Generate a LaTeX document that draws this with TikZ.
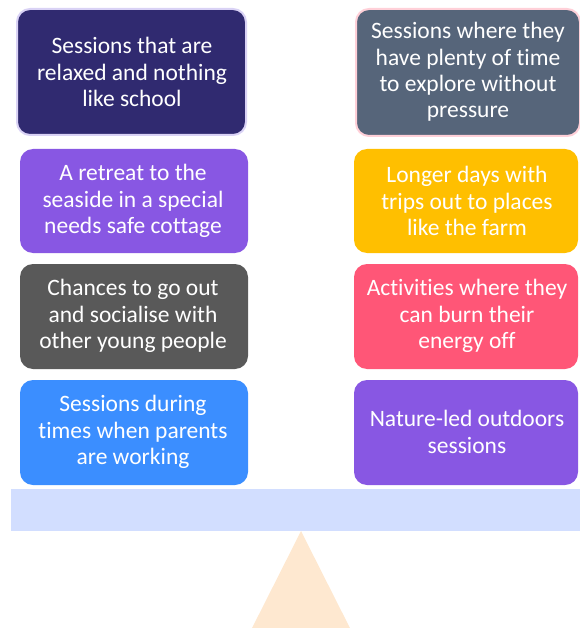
\documentclass[tikz,border=0pt]{standalone}
\usepackage{fontspec}
\setmainfont{Carlito}[Ligatures=NoCommon]
\definecolor{cNavy}{HTML}{302A70}
\definecolor{cLav}{HTML}{D9D2F5}
\definecolor{cPurple}{HTML}{8857E3}
\definecolor{cGray}{HTML}{595959}
\definecolor{cBlue}{HTML}{3B8EFF}
\definecolor{cSlate}{HTML}{56657A}
\definecolor{cPinkB}{HTML}{FFD0D8}
\definecolor{cAmber}{HTML}{FFBF00}
\definecolor{cRose}{HTML}{FF5677}
\definecolor{cBeam}{HTML}{D2DEFF}
\definecolor{cBase}{HTML}{FEE8D0}
\begin{document}
\begin{tikzpicture}[x=1pt,y=-1pt,
  card/.style={rounded corners=13pt, draw=none},
  cardtext/.style={text=white, align=center, font=\fontsize{23.5}{26.2}\selectfont, inner sep=0pt}]
\useasboundingbox (0,0) rectangle (579,628);
% fulcrum and beam
\fill[cBase] (301,531) coordinate (apex) -- (246,640) -- (356,640) -- cycle;
\fill[cBeam] (11,489) rectangle (590,531);
% left column
\filldraw[card, fill=cNavy, draw=cLav, line width=2pt] (17,9) rectangle (246,135);
\node[cardtext] (l1) at (132,72) {Sessions that are\\relaxed and nothing\\like school};
\fill[card, cPurple] (20,149) rectangle (248,253);
\node[cardtext] (l2) at (133,201) {A retreat to the\\seaside in a special\\needs safe cottage};
\fill[card, cGray] (20,264) rectangle (248,369);
\node[cardtext] (l3) at (133,316) {Chances to go out\\and socialise with\\other young people};
\fill[card, cBlue] (20,380) rectangle (248,485);
\node[cardtext] (l4) at (133,432) {Sessions during\\times when parents\\are working};
% right column
\filldraw[card, fill=cSlate, draw=cPinkB, line width=2pt] (356,9) rectangle (580,136);
\node[cardtext] (r1) at (468,72) {Sessions where they\\have plenty of time\\to explore without\\pressure};
\fill[card, cAmber] (354,149) rectangle (578,253);
\node[cardtext] (r2) at (467,201) {Longer days with\\trips out to places\\like the farm};
\fill[card, cRose] (354,264) rectangle (578,369);
\node[cardtext] (r3) at (467,316) {Activities where they\\can burn their\\energy off};
\fill[card, cPurple] (354,380) rectangle (578,485);
\node[cardtext] (r4) at (467,432) {Nature-led outdoors\\sessions};
\end{tikzpicture}
\end{document}
